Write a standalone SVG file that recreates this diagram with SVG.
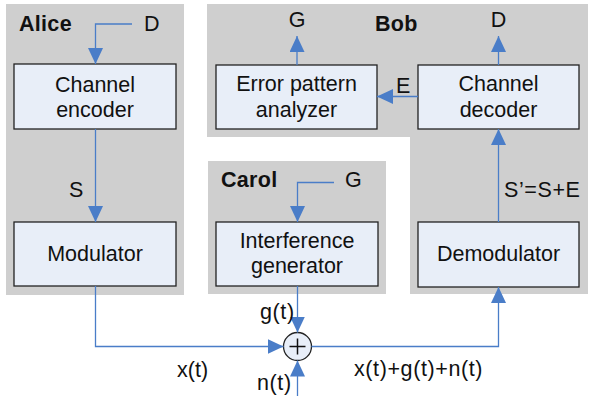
<svg xmlns="http://www.w3.org/2000/svg" width="594" height="396" viewBox="0 0 594 396">
  <style>
    .panel { fill: #cfcfcf; stroke: none; }
    .box { fill: #e8eef8; stroke: #222; stroke-width: 1.3; }
    .wire { fill: none; stroke: #4a7dc8; stroke-width: 1.3; }
    text { font-family: "Liberation Sans", Arial, sans-serif; font-size: 21.5px; fill: #111; }
    .mid { text-anchor: middle; }
    .party { font-weight: bold; letter-spacing: 0.3px; }
    .wide { letter-spacing: 0.6px; }
  </style>
  <defs>
    <marker id="arrow" markerUnits="userSpaceOnUse" markerWidth="16" markerHeight="15" refX="16" refY="7.5" orient="auto">
      <path d="M0,0 L16,7.5 L0,15 Z" fill="#4a7dc8"/>
    </marker>
  </defs>

  <rect x="0" y="0" width="594" height="396" fill="#fff"/>

  <!-- party panels -->
  <g id="alice">
    <rect class="panel" x="6" y="4" width="178" height="291"/>
    <text class="party" x="19" y="31">Alice</text>
  </g>
  <g id="bob">
    <path class="panel" d="M207,4 H588 V294 H410 V137 H207 Z"/>
    <text class="party" x="375" y="31">Bob</text>
  </g>
  <g id="carol">
    <rect class="panel" x="208" y="161" width="178" height="133"/>
    <text class="party" x="221" y="187">Carol</text>
  </g>

  <!-- processing blocks -->
  <g id="channel-encoder">
    <rect class="box" x="14" y="64" width="162" height="65"/>
    <text class="mid" x="95" y="92">Channel</text>
    <text class="mid" x="95" y="117">encoder</text>
  </g>
  <g id="modulator">
    <rect class="box" x="14" y="222" width="162" height="64"/>
    <text class="mid" x="95" y="261">Modulator</text>
  </g>
  <g id="error-pattern-analyzer">
    <rect class="box" x="216" y="65" width="161" height="64"/>
    <text class="mid" x="296.5" y="91">Error pattern</text>
    <text class="mid" x="296.5" y="117">analyzer</text>
  </g>
  <g id="channel-decoder">
    <rect class="box" x="418" y="65" width="161" height="64"/>
    <text class="mid" x="498.5" y="91">Channel</text>
    <text class="mid" x="498.5" y="117">decoder</text>
  </g>
  <g id="interference-generator">
    <rect class="box" x="216" y="222" width="162" height="64"/>
    <text class="mid" x="297" y="247.5">Interference</text>
    <text class="mid" x="297" y="273">generator</text>
  </g>
  <g id="demodulator">
    <rect class="box" x="418" y="222" width="161" height="65"/>
    <text class="mid" x="498.5" y="261">Demodulator</text>
  </g>
  <g id="adder">
    <circle cx="297.5" cy="346.5" r="14" fill="#e8eef8" stroke="#222" stroke-width="1.3"/>
    <path d="M289.5,346.5 H305.5 M297.5,338.5 V354.5" stroke="#111" stroke-width="1.5" fill="none"/>
  </g>

  <!-- connectors -->
  <g id="connectors">
    <path class="wire" d="M132,24 H95.5 V64" marker-end="url(#arrow)"/>
    <path class="wire" d="M95.5,129 V222" marker-end="url(#arrow)"/>
    <path class="wire" d="M95.5,286 V346.5 H283.5" marker-end="url(#arrow)"/>
    <path class="wire" d="M334,182.5 H297.5 V222" marker-end="url(#arrow)"/>
    <path class="wire" d="M297.5,286 V332.5" marker-end="url(#arrow)"/>
    <path class="wire" d="M297.5,396 V360.5" marker-end="url(#arrow)"/>
    <path class="wire" d="M311.5,346.5 H498.5 V287" marker-end="url(#arrow)"/>
    <path class="wire" d="M498.5,222 V129" marker-end="url(#arrow)"/>
    <path class="wire" d="M498.5,65 V36" marker-end="url(#arrow)"/>
    <path class="wire" d="M418,96.5 H377" marker-end="url(#arrow)"/>
    <path class="wire" d="M297,65 V36" marker-end="url(#arrow)"/>
  </g>

  <!-- signal labels -->
  <g id="labels">
    <text x="144" y="31">D</text>
    <text class="mid" x="297" y="27">G</text>
    <text class="mid" x="498.5" y="27">D</text>
    <text x="396" y="93">E</text>
    <text x="345" y="187">G</text>
    <text x="69" y="197">S</text>
    <text class="wide" x="504" y="197">S’=S+E</text>
    <text class="wide" x="260" y="319">g(t)</text>
    <text x="177" y="377">x(t)</text>
    <text class="wide" x="257" y="390">n(t)</text>
    <text class="wide" x="354" y="376">x(t)+g(t)+n(t)</text>
  </g>
</svg>
